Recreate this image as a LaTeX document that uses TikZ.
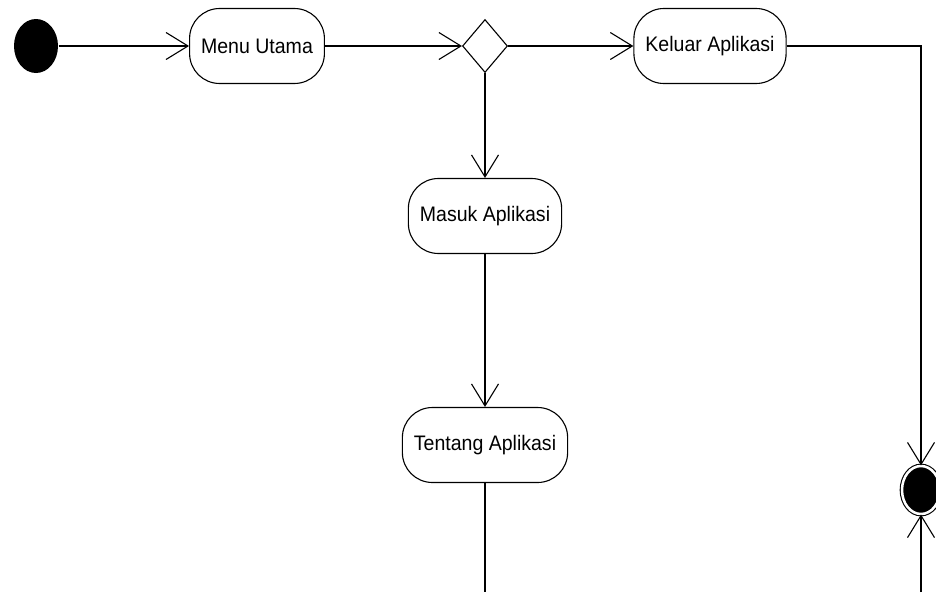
\documentclass[tikz,border=0pt]{standalone}
\usepackage{fontspec}
\setmainfont{Liberation Sans}
\newfontfamily\actfont[FakeStretch=0.93]{Liberation Sans}
\usetikzlibrary{arrows.meta,shapes.geometric}

\begin{document}
\begin{tikzpicture}[x=1pt,y=-1pt,
    line width=1.1pt,
    act/.style={draw, rounded corners=30pt, minimum height=75pt, inner xsep=11.5pt,
      font=\actfont\fontsize{21}{25}\selectfont},
    arr/.style={-{Straight Barb[length=22pt,width=27pt,line width=1.1pt]}}]
  \path[use as bounding box, clip] (0,0) rectangle (936,592);

	% start and end
	\node[ellipse, fill=black, inner sep=0pt, minimum width=44pt, minimum height=54pt] (start) at (36,46) {};
	\node[ellipse, draw, fill=black, double=white, double distance=2.5pt, inner sep=0pt,
	  minimum width=38pt, minimum height=48pt] (finish) at (921,490) {};

	% activities
	\node[act] (menu) at (257,46) {Menu Utama};
	\node[diamond, draw, inner sep=0pt, minimum width=45pt, minimum height=53pt] (choice) at (485,46) {};
	\node[act] (keluar) at (710,46) {Keluar Aplikasi};
	\node[act] (masuk) at (485,216) {Masuk Aplikasi};
	\node[act] (tentang) at (485,445) {Tentang Aplikasi};

	\coordinate (bottomA) at (485,592);
	\coordinate (bottomB) at (921,592);

	\draw[arr] (start) -- (menu);
	\draw[arr] (menu) -- (choice);
	\draw[arr] (choice) -- (keluar);
	\draw[arr] (choice) -- (masuk);
	\draw[arr] (masuk) -- (tentang);
	\draw[arr] (keluar) -| (finish);
	\draw (tentang) -- (bottomA);
	\draw[arr] (bottomB) -- (finish);
\end{tikzpicture}
\end{document}
